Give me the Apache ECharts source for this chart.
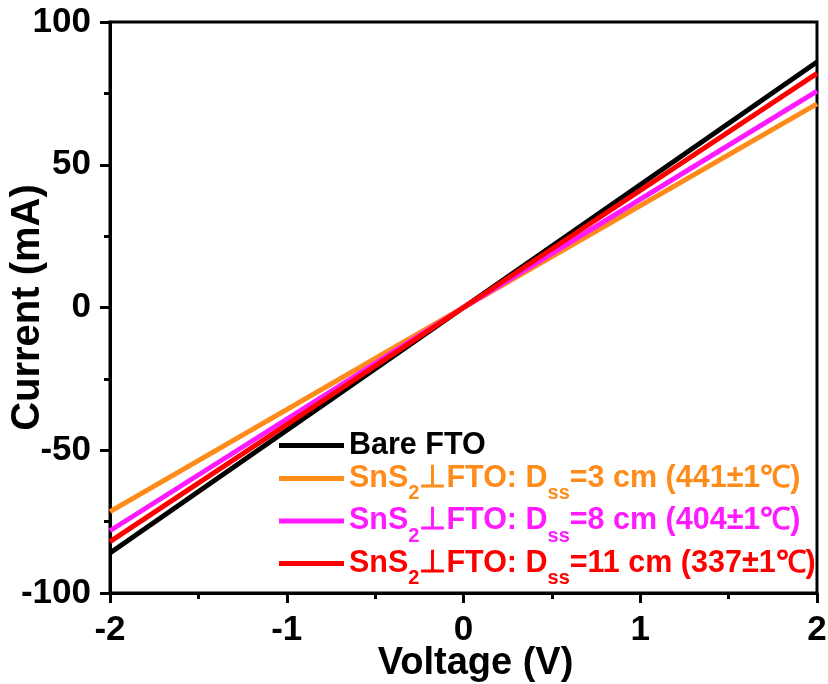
<!DOCTYPE html>
<html><head><meta charset="utf-8">
<script src="https://cdn.jsdelivr.net/npm/echarts@6/dist/echarts.min.js"></script>
<style>html,body{margin:0;padding:0;background:#fff}#c{width:828px;height:684px}</style>
</head><body><div id="c"></div>
<script>
const voltage = [-2, 0, 2];
const bareFTO = [-86, 0, 86];
const dss3 = [-71.5, 0, 71.3];
const dss8 = [-78.2, 0, 75.8];
const dss11 = [-82, 0, 82];
const seriesNames = ['Bare FTO', 'SnS2 3cm', 'SnS2 8cm', 'SnS2 11cm'];
const legendTexts = [
  '{b|Bare FTO}',
  '{m|SnS}{s|2}{m|⊥FTO: D}{s|ss}{m|=3 cm (441±1℃)}',
  '{m|SnS}{s|2}{m|⊥FTO: D}{s|ss}{m|=8 cm (404±1℃)}',
  '{m|SnS}{s|2}{m|⊥FTO: D}{s|ss}{m|=11 cm (337±1℃)}'
];
const colors = ['#000000', '#FF8C1A', '#FF1AFF', '#FF0000'];
const seriesData = [bareFTO, dss3, dss8, dss11];

const FONT = 'Liberation Sans, Arial, sans-serif';
function rich(color) {
  return {
    b: {fontSize: 30.5, fontWeight: 'bold', fontFamily: FONT, color: color, lineHeight: 40, verticalAlign: 'middle'},
    m: {fontSize: 30.5, fontWeight: 'bold', fontFamily: FONT, color: color, lineHeight: 30, verticalAlign: 'middle'},
    s: {fontSize: 20, fontWeight: 'bold', fontFamily: FONT, color: color, lineHeight: 20, verticalAlign: 'top', padding: [20, 0, 0, 0]}
  };
}
const chart = echarts.init(document.getElementById('c'));
chart.setOption({
  backgroundColor: '#fff',
  animation: false,
  grid: {left: 110, right: 11, top: 22, bottom: 91, containLabel: false, outerBoundsMode: 'none',
         show: true, borderColor: '#000', borderWidth: 3, backgroundColor: 'transparent'},
  legend: {
    orient: 'vertical', left: 279, top: 430, itemGap: 2, padding: 0,
    icon: 'rect', itemWidth: 65, itemHeight: 5,
    formatter: function (name) { return legendTexts[seriesNames.indexOf(name)]; },
    data: seriesNames.map((n, i) => ({name: n, textStyle: {color: colors[i], rich: rich(colors[i])}}))
  },
  xAxis: {
    type: 'value', min: -2, max: 2, interval: 1,
    name: 'Voltage (V)', nameLocation: 'middle', nameGap: 52, nameMoveOverlap: false,
    nameTextStyle: {fontSize: 38, fontWeight: 'bold', fontFamily: FONT, color: '#000', padding: [0, 0, 0, 24]},
    axisLine: {show: true, onZero: false, lineStyle: {color: '#000', width: 3}},
    axisTick: {show: true, inside: false, length: 10, lineStyle: {color: '#000', width: 3}},
    minorTick: {show: true, splitNumber: 2, length: 6, lineStyle: {color: '#000', width: 3}},
    splitLine: {show: false},
    axisLabel: {fontSize: 35, fontWeight: 'bold', fontFamily: FONT, color: '#000', margin: 20}
  },
  yAxis: {
    type: 'value', min: -100, max: 100, interval: 50,
    name: 'Current (mA)', nameLocation: 'middle', nameGap: 62, nameMoveOverlap: false,
    nameTextStyle: {fontSize: 40, fontWeight: 'bold', fontFamily: FONT, color: '#000'},
    axisLine: {show: true, onZero: false, lineStyle: {color: '#000', width: 3}},
    axisTick: {show: true, inside: false, length: 10, lineStyle: {color: '#000', width: 3}},
    minorTick: {show: true, splitNumber: 2, length: 6, lineStyle: {color: '#000', width: 3}},
    splitLine: {show: false},
    axisLabel: {fontSize: 35, fontWeight: 'bold', fontFamily: FONT, color: '#000', margin: 19}
  },
  series: seriesNames.map((n, i) => ({
    name: n, type: 'line', showSymbol: false, symbol: 'none',
    color: colors[i],
    lineStyle: {width: 5, color: colors[i]},
    data: voltage.map((v, j) => [v, seriesData[i][j]])
  }))
});
</script></body></html>
